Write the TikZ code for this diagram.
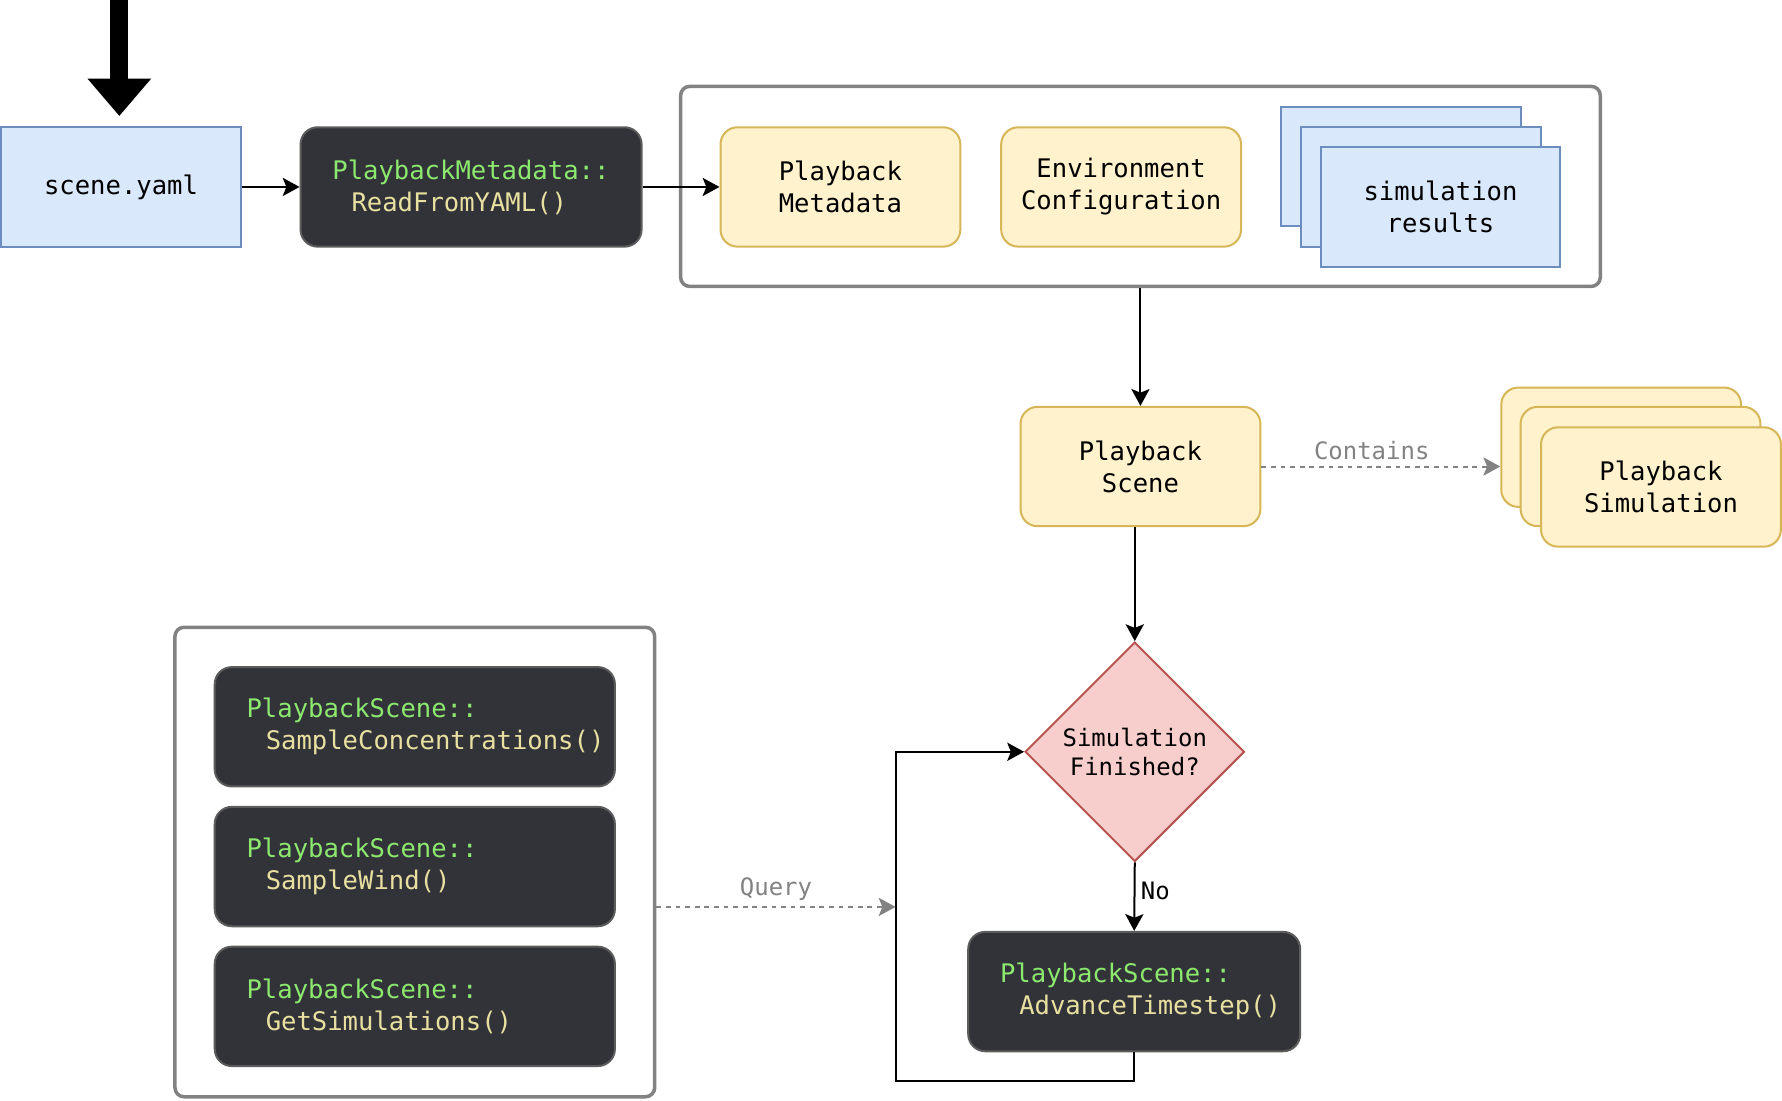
\documentclass[tikz,border=0pt]{standalone}
\usepackage{fontspec}
\setmainfont{DejaVu Sans Mono}
\usetikzlibrary{arrows.meta,shapes.geometric}

\definecolor{yamlfill}{HTML}{DAE8FC}
\definecolor{yamldraw}{HTML}{6C8EBF}
\definecolor{notefill}{HTML}{FFF2CC}
\definecolor{notedraw}{HTML}{D6B656}
\definecolor{decfill}{HTML}{F8CECC}
\definecolor{decdraw}{HTML}{B85450}
\definecolor{codebg}{HTML}{323338}
\definecolor{codedraw}{HTML}{5C5C5C}
\definecolor{codegreen}{HTML}{8CE86E}
\definecolor{codeyellow}{HTML}{E8E0A0}
\definecolor{groupgray}{HTML}{828282}

\newcommand{\cls}[1]{\mbox{\textcolor{codegreen}{#1}}}
\newcommand{\fn}[1]{\mbox{\hspace*{0.75em}\textcolor{codeyellow}{#1}}}

\begin{document}
\begin{tikzpicture}[x = 0.025cm, y = -0.025cm,
  font=\fontsize{16}{20}\selectfont, line width=1.25pt,
  file/.style={draw=yamldraw, fill=yamlfill, minimum width=5.275cm, minimum height=2.625cm, align=center},
  note/.style={draw=notedraw, fill=notefill, rounded corners=0.375cm, minimum width=5.275cm, minimum height=2.625cm, align=center},
  cppbox/.style={draw=codedraw, fill=codebg, rounded corners=0.375cm, minimum height=2.625cm, inner xsep=0.7cm, text width=#1, align=left},
  group/.style={draw=groupgray, line width=2.2pt, rounded corners=0.2cm},
  arr/.style={-{Stealth[length=0.37cm,width=0.4cm,inset=0.08cm]}},
  garr/.style={arr, draw=groupgray, dashed},
  glabel/.style={text=groupgray, font=\fontsize{15}{18}\selectfont}
]
\useasboundingbox (0,0) rectangle (1568,968);

% top row
\coordinate (TOP) at (105,0);
\node[file] (YAML) at (106.5,164.5) {scene.yaml};
\node[cppbox=6.1cm] (READ) at (414.5,164.5) {\cls{PlaybackMetadata::}\\\fn{ReadFromYAML()}};
\node[group, minimum width=20.225cm, minimum height=4.4cm] (GROUP) at (1003.5,164) {};
\node[note] (META) at (739.5,164.5) {Playback\\Metadata};
\node[note] (ENV) at (986.5,164.5) {Environment\\Configuration};
\node[file] (SIM1) at (1232.5,146.5) {};
\node[file] (SIM2) at (1250.5,164.5) {};
\node[file] (SIM3) at (1267.5,182) {simulation\\results};

\draw[line width=0.4cm, -{Triangle[width=1.35cm,length=0.825cm]}, shorten >=0.225cm] (TOP) -- (TOP |- YAML.north);
\draw[arr] (YAML.east) -- (READ.west);
\draw[arr] (READ.east) -- (META.west);

% scene
\node[note] (SCENE) at (1003.5,410.5) {Playback\\Scene};
\node[note] (PS1) at (1426.5,393.5) {};
\node[note] (PS2) at (1443.5,410.5) {};
\node[note] (PS3) at (1461.5,428.5) {Playback\\Simulation};
\draw[arr] (GROUP.south) -- (SCENE.north);
\draw[garr] (SCENE.east) -- node[glabel, above, xshift=-0.2cm]{Contains} (SCENE.east -| PS1.west);

% loop
\node[diamond, draw=decdraw, fill=decfill, minimum width=4.825cm, minimum height=4.825cm, inner sep=0pt, align=center, font=\fontsize{15}{18.5}\selectfont] (DEC) at (998.5,661.5) {Simulation\\Finished?};
\node[cppbox=5.9cm] (ADV) at (998,872.5) {\cls{PlaybackScene::}\\\fn{AdvanceTimestep()}};
\coordinate (LOOP) at (788,951);
\coordinate (QIN) at (788,798);
\draw[arr] (DEC.north |- SCENE.south) -- (DEC.north);
\draw[arr] (DEC.south) -- node[right, yshift=0.12cm, font=\fontsize{15}{18}\selectfont]{No} (ADV.north);
\draw[arr] (ADV.south) |- (LOOP) |- (DEC.west);

% queries
\node[group, minimum width=10.55cm, minimum height=10.325cm] (QBOX) at (365,758.5) {};
\node[cppbox=7.4cm] (Q1) at (365,639.5) {\cls{PlaybackScene::}\\\fn{SampleConcentrations()}};
\node[cppbox=7.4cm] (Q2) at (365,762.5) {\cls{PlaybackScene::}\\\fn{SampleWind()}};
\node[cppbox=7.4cm] (Q3) at (365,885.5) {\cls{PlaybackScene::}\\\fn{GetSimulations()}};
\draw[garr] (QBOX.east |- QIN) -- node[glabel, above]{Query} (QIN);
\end{tikzpicture}
\end{document}
